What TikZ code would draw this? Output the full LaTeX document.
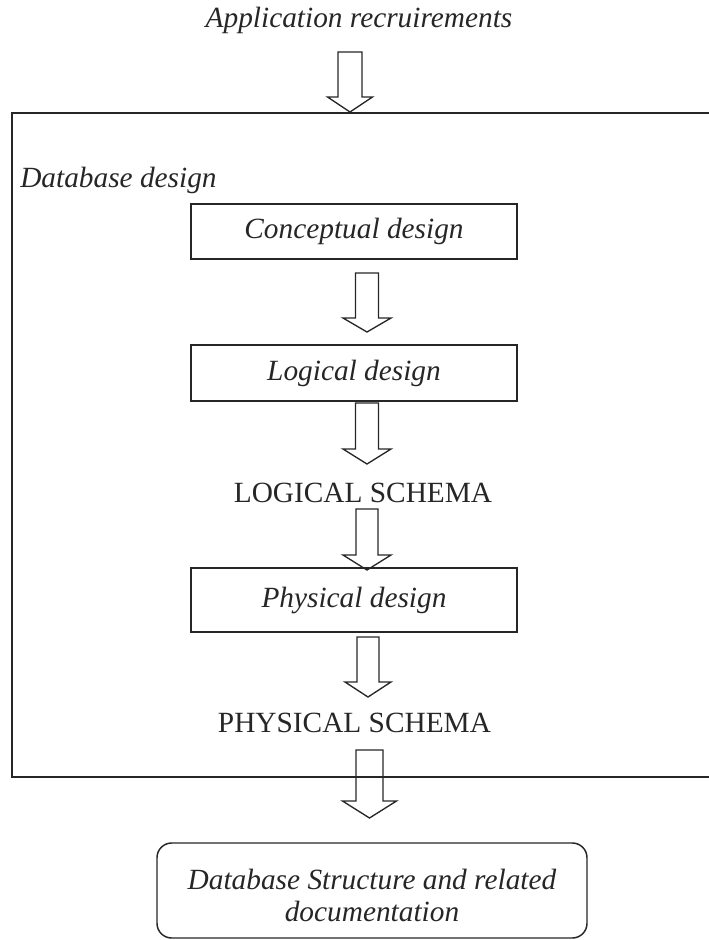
\documentclass[tikz,border=0pt]{standalone}
\usepackage{fontspec}
\setmainfont{Liberation Serif}
\newcommand{\blockarrow}[6]{% cx, ytop, ytip, shaft half, head half, head height
  \draw[arrowline] (#1-#4,#2) -- (#1+#4,#2) -- (#1+#4,#3-#6) -- (#1+#5,#3-#6)
    -- (#1,#3) -- (#1-#5,#3-#6) -- (#1-#4,#3-#6) -- cycle;}
\begin{document}
\begin{tikzpicture}[x=0.75pt,y=-0.75pt,
  ink/.style={black!85},
  itlabel/.style={font=\fontsize{22}{24}\selectfont\itshape, text=black!85, inner sep=0pt},
  capslabel/.style={font=\fontsize{22}{24}\selectfont, text=black!85, inner sep=0pt},
  stagebox/.style={draw=black!85, line width=1.1pt, rectangle, inner sep=0pt,
    minimum width=244.5pt, font=\fontsize{22}{24}\selectfont\itshape, text=black!85},
  endbox/.style={draw=black!85, line width=1.1pt, rounded corners=11pt, inner sep=0pt,
    minimum width=322.5pt, minimum height=71.25pt, align=center,
    font=\fontsize{22}{24}\selectfont\itshape, text=black!85},
  frameline/.style={draw=black!85, line width=1.1pt},
  arrowline/.style={draw=black!85, line width=1pt, line join=miter}]
\useasboundingbox (0,0) rectangle (708,940);

% top input
\node[itlabel, anchor=base] (app) at (359,27) {Application recruirements};
\blockarrow{350}{52}{112}{12}{22.5}{15}

% big database design frame (open to the right)
\coordinate (frTR) at (712,113);
\coordinate (frTL) at (12,113);
\coordinate (frBL) at (12,777);
\coordinate (frBR) at (712,777);
\draw[frameline] (frTR) -- (frTL) -- (frBL) -- (frBR);
\node[itlabel, anchor=base west] (dbd) at (20,187) {Database design};

% stages
\node[stagebox, minimum height=41.25pt] (concept) at (354,231.5) {Conceptual design};
\blockarrow{367}{273}{332}{11.5}{24}{14}
\node[stagebox, minimum height=42pt] (logical) at (354,373) {Logical design};
\blockarrow{367}{403}{464}{11.5}{24}{15}
\node[capslabel, anchor=base] (lschema) at (363,502) {LOGICAL SCHEMA};
\blockarrow{367}{509}{570}{11}{24}{15}
\node[stagebox, minimum height=48pt] (physical) at (354,600) {Physical design};
\blockarrow{368}{637}{697}{11}{23}{15}
\node[capslabel, anchor=base] (pschema) at (354.5,732) {PHYSICAL SCHEMA};

% output
\blockarrow{369.5}{750}{818}{13.5}{27}{17}
\node[endbox] (result) at (372,890.5) {\rule{0pt}{22pt}Database Structure and related\\documentation};
\end{tikzpicture}
\end{document}
